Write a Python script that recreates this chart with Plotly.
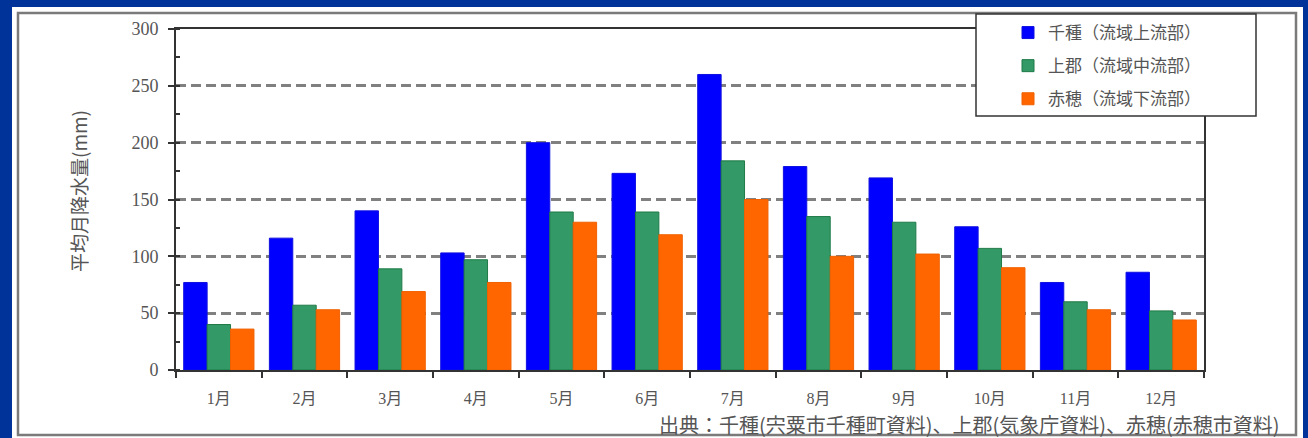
import plotly.graph_objects as go

# ---- data ----
months = ["1月", "2月", "3月", "4月", "5月", "6月", "7月", "8月", "9月", "10月", "11月", "12月"]
chikusa = [77, 116, 140, 103, 200, 173, 260, 179, 169, 126, 77, 86]
kamigori = [40, 57, 89, 97, 139, 139, 184, 135, 130, 107, 60, 52]
ako = [36, 53, 69, 77, 130, 119, 150, 100, 102, 90, 53, 44]
series_names = ["千種（流域上流部）", "上郡（流域中流部）", "赤穂（流域下流部）"]
y_tick_values = [0, 50, 100, 150, 200, 250, 300]
y_title = "平均月降水量(mm)"
source_text = "出典：千種(宍粟市千種町資料)、上郡(気象庁資料)、赤穂(赤穂市資料)"

colors = ["#0000FF", "#339966", "#FF6600"]
outline = ["#1010E0", "#1F7A47", "#F06000"]

W, H = 1308, 438
L, R, T, B = 176, 104, 29, 68
pw, ph = W - L - R, H - T - B


def px(x):
    return (x - L) / pw


def py(y):
    return (H - B - y) / ph


FONT = "Liberation Serif, Noto Sans CJK JP, serif"
TXT = "#555555"

fig = go.Figure()
for i, (name, vals) in enumerate(zip(series_names, [chikusa, kamigori, ako])):
    fig.add_trace(go.Bar(
        x=months, y=vals, name=name, legendgroup=f"g{i}",
        marker=dict(color=colors[i], line=dict(color=outline[i], width=1)),
    ))

shapes = [
    # white panel
    dict(type="rect", xref="paper", yref="paper", x0=px(12), x1=px(1303), y0=py(438), y1=py(7),
         fillcolor="white", line=dict(width=0), layer="below"),
    # grey border
    dict(type="rect", xref="paper", yref="paper", x0=px(18), x1=px(1296), y0=py(435), y1=py(13),
         fillcolor="rgba(0,0,0,0)", line=dict(color="#7a7a7a", width=2.5), layer="below"),
    # legend box
    dict(type="rect", xref="paper", yref="paper", x0=px(976), x1=px(1256), y0=py(116), y1=py(14),
         fillcolor="white", line=dict(color="#333333", width=1.5), layer="above"),
]

annotations = [
    dict(text=y_title, xref="paper", yref="paper", x=px(78), y=py(191), textangle=-90,
         showarrow=False, font=dict(family="Noto Sans CJK JP", size=19, color=TXT),
         xanchor="center", yanchor="middle"),
    dict(text=source_text, xref="paper", yref="paper", x=px(1282), y=py(424),
         showarrow=False, font=dict(family="Noto Sans CJK JP", size=20, color=TXT),
         xanchor="right", yanchor="middle"),
]

fig.update_layout(
    width=W, height=H,
    margin=dict(l=L, r=R, t=T, b=B, pad=0),
    paper_bgcolor="#003399",
    plot_bgcolor="white",
    barmode="group", bargap=0.18, bargroupgap=0,
    shapes=shapes, annotations=annotations,
    showlegend=True,
    legend=dict(x=px(1008), y=py(15), xanchor="left", yanchor="top",
                bgcolor="rgba(0,0,0,0)", borderwidth=0,
                font=dict(family="Noto Sans CJK JP", size=17, color=TXT),
                tracegroupgap=8, itemwidth=30, traceorder="grouped"),
    xaxis=dict(type="category", tickson="boundaries", ticks="outside", ticklen=6,
               tickcolor="#333333", tickwidth=2, showline=True, linecolor="#333333",
               linewidth=2, mirror=True, showgrid=False,
               tickfont=dict(family=FONT, size=16, color=TXT), ticklabelstandoff=13),
    yaxis=dict(range=[0, 300], tickvals=y_tick_values, ticks="outside", ticklen=6,
               tickcolor="#333333", tickwidth=2, showline=True, linecolor="#333333",
               linewidth=2, mirror=True, showgrid=True, gridcolor="#808080",
               griddash="10px,5px", gridwidth=2.5, zeroline=False,
               minor=dict(dtick=25, ticks="inside", ticklen=4, tickcolor="#333333",
                          showgrid=False),
               tickfont=dict(family=FONT, size=18, color=TXT), ticklabelstandoff=6),
)

fig.write_html("out.html")
